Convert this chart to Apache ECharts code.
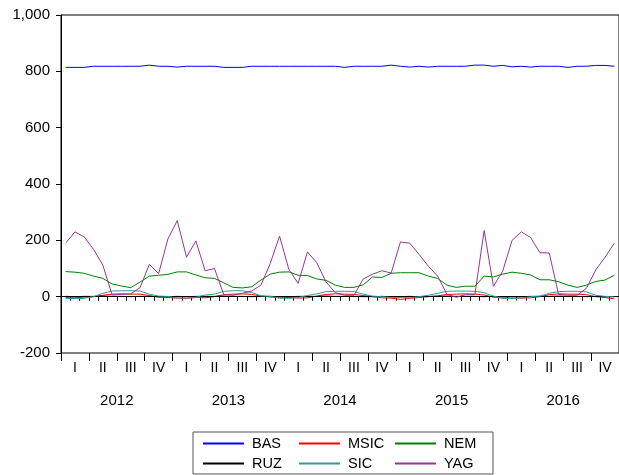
<!DOCTYPE html>
<html>
<head>
<meta charset="utf-8">
<script src="https://cdn.jsdelivr.net/npm/echarts@6/dist/echarts.min.js"></script>
<style>
html,body{margin:0;padding:0;background:#fff;}
#chart{width:619px;height:475px;}
</style>
</head>
<body>
<div id="chart"></div>
<script>
const years = ['2012', '2013', '2014', '2015', '2016'];
const quarterLabels = ['I', 'II', 'III', 'IV'];
const yTicks = [-200, 0, 200, 400, 600, 800, 1000];

const BAS = [814, 814, 814, 818, 818, 818, 818, 818, 818, 822, 818, 818,
             815, 818, 818, 818, 818, 814, 814, 814, 818, 818, 818, 818,
             818, 818, 818, 818, 818, 818, 814, 818, 818, 818, 818, 822,
             818, 815, 818, 815, 818, 818, 818, 818, 822, 822, 818, 821,
             816, 818, 815, 818, 818, 818, 814, 818, 818, 821, 821, 818];
const MSIC = [-3, -4, -2, 0, 5, 9, 10, 9, 9, 4, -2, -3,
              -5, -6, -3, -4, 0, 7, 9, 10, 8, 2, -1, -4,
              -3, -5, -4, 2, 8, 10, 9, 8, 4, 0, -4, -5,
              -10, -6, -3, 0, 3, 8, 9, 10, 9, 6, -2, -4,
              -5, -5, -4, 0, 7, 10, 9, 9, 7, 0, -3, -8];
const NEM = [89, 87, 83, 73, 65, 45, 38, 32, 52, 73, 76, 79,
             88, 88, 77, 67, 65, 49, 33, 31, 35, 59, 80, 87,
             88, 76, 75, 63, 58, 41, 33, 33, 42, 70, 68, 83,
             85, 85, 85, 73, 65, 41, 33, 37, 37, 73, 70, 80,
             87, 83, 77, 60, 60, 53, 41, 33, 41, 54, 59, 76];
const RUZ = [1, 0, 1, 1, 2, 1, 1, 0, 1, 1, 0, 0,
             1, 0, 1, 1, 1, 2, 1, 1, 0, 1, 1, 0,
             0, 1, 1, 1, 2, 1, 1, 1, 0, 0, 1, 0,
             0, 1, 0, 1, 1, 2, 1, 1, 1, 0, 1, 0,
             0, 0, 1, 1, 1, 2, 1, 1, 0, 1, 0, 0];
const SIC = [-6, -7, -6, 0, 12, 20, 21, 21, 20, 9, 2, 1,
             -5, -5, -2, 6, 9, 19, 21, 21, 15, 3, 1, -5,
             -6, -3, 4, 10, 18, 19, 19, 18, 9, 2, 0, -3,
             -3, -4, 0, 5, 12, 19, 20, 20, 19, 14, 2, -6,
             -7, -5, 0, 2, 12, 18, 19, 19, 17, 5, 1, -1];
const YAG = [190, 230, 212, 168, 112, 6, 8, 10, 32, 115, 82, 205,
             270, 140, 198, 92, 100, 8, 5, 12, 20, 41, 118, 215,
             97, 47, 159, 121, 52, 14, 5, 5, 63, 80, 92, 84,
             194, 190, 150, 108, 73, 8, -2, 7, 7, 235, 37, 91,
             200, 230, 210, 156, 155, 8, 5, 5, 30, 95, 140, 190];

const seriesNames = ['BAS', 'MSIC', 'NEM', 'RUZ', 'SIC', 'YAG'];
const seriesData = [BAS, MSIC, NEM, RUZ, SIC, YAG];
const seriesColors = ['#0000ff', '#ff0000', '#008000', '#000000', '#339999', '#993399'];

const months = [];
const quarters = [];
years.forEach(y => {
  for (let m = 1; m <= 12; m++) months.push(y + '-' + m);
  quarterLabels.forEach(q => quarters.push(y + ' ' + q));
});

const FONT = "'Liberation Sans', Arial, sans-serif";
const chart = echarts.init(document.getElementById('chart'), null, {renderer: 'canvas'});

chart.setOption({
  animation: false,
  backgroundColor: '#ffffff',
  textStyle: {fontFamily: FONT},
  grid: {
    left: 61, top: 15, width: 566, height: 338,
    show: true, borderColor: '#000', borderWidth: 1, backgroundColor: 'transparent'
  },
  legend: {
    data: seriesNames,
    left: 193, top: 432,
    width: 290,
    orient: 'horizontal',
    itemWidth: 41, itemHeight: 14, itemGap: 5,
    padding: [4, 8, 3, 9],
    borderColor: '#555', borderWidth: 1,
    itemStyle: {opacity: 0},
    textStyle: {fontFamily: FONT, fontSize: 14.5, color: '#000', width: 41, padding: [0, 0, 0, 3], lineHeight: 14}
  },
  xAxis: [
    {
      type: 'category', data: months, boundaryGap: true, position: 'bottom',
      axisLine: {show: true, lineStyle: {color: '#000', width: 1}},
      axisTick: {show: true, interval: 0, length: 4, lineStyle: {color: '#000'}},
      axisLabel: {
        interval: (idx) => idx % 3 === 1,
        formatter: (v, idx) => quarterLabels[Math.floor(idx / 3) % 4],
        margin: 8, fontSize: 14, color: '#000', fontFamily: FONT
      },
      splitLine: {show: false}
    },
    {
      type: 'category', data: quarters, boundaryGap: true, position: 'bottom',
      axisLine: {show: false},
      axisTick: {show: true, interval: 0, length: 8, lineStyle: {color: '#000'}},
      axisLabel: {show: false},
      splitLine: {show: false}
    },
    {
      type: 'category', data: years, boundaryGap: true, position: 'bottom',
      axisLine: {show: false},
      axisTick: {show: false},
      axisLabel: {interval: 0, margin: 40, fontSize: 15, color: '#000', fontFamily: FONT},
      splitLine: {show: false}
    }
  ],
  yAxis: {
    type: 'value', min: yTicks[0], max: yTicks[yTicks.length - 1], interval: 200,
    axisLine: {show: true, lineStyle: {color: '#000', width: 1}},
    axisTick: {show: true, length: 5, lineStyle: {color: '#000'}},
    axisLabel: {margin: 11, fontSize: 15, color: '#000', fontFamily: FONT},
    splitLine: {show: false}
  },
  series: seriesNames.map((name, i) => ({
    name: name,
    type: 'line',
    xAxisIndex: 0,
    data: seriesData[i],
    symbol: 'none',
    showSymbol: false,
    lineStyle: {color: seriesColors[i], width: 1},
    itemStyle: {color: seriesColors[i]},
    emphasis: {disabled: true}
  }))
});
</script>
</body>
</html>
